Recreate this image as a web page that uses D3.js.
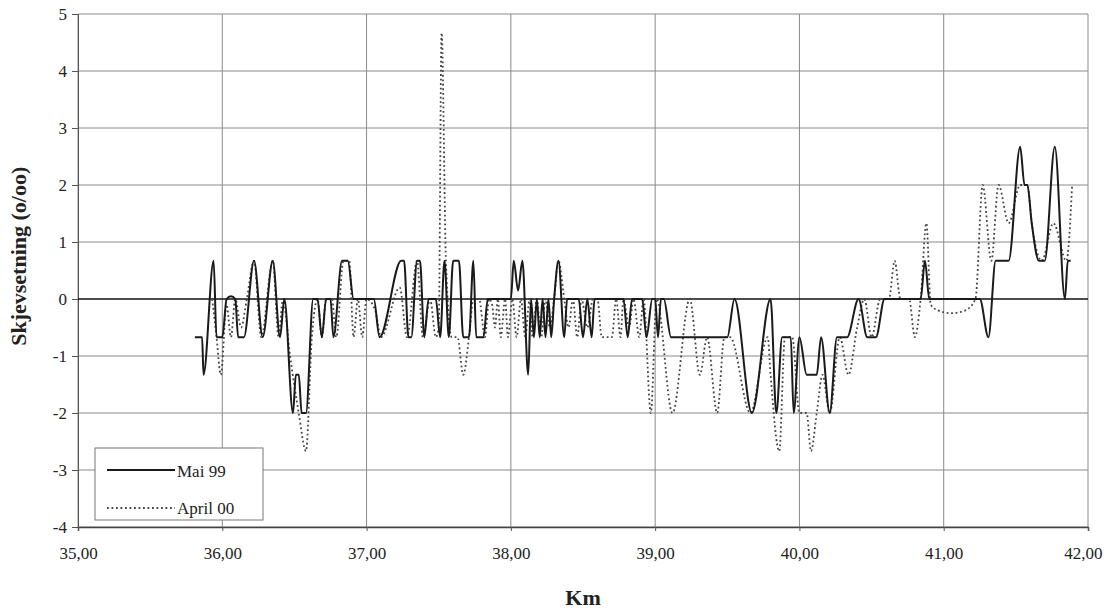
<!DOCTYPE html>
<html>
<head>
<meta charset="utf-8">
<script src="https://cdn.jsdelivr.net/npm/d3@7"></script>
<style>
  body { margin: 0; background: #fff; }
  text { font-family: "Liberation Serif", "Times New Roman", serif; fill: #222; }
</style>
</head>
<body>
<div id="chart"></div>
<script>
// values (km, skjevsetning o/oo)
const maiKm = [35.81, 35.86, 35.87, 35.94, 35.96, 36.00, 36.03, 36.06, 36.09, 36.11, 36.15, 36.22, 36.28, 36.35, 36.40, 36.43,
  36.49, 36.51, 36.53, 36.55, 36.58, 36.63, 36.66, 36.69, 36.72, 36.75, 36.77, 36.83, 36.87, 36.91, 37.05, 37.09, 37.24, 37.26,
  37.29, 37.31, 37.35, 37.37, 37.40, 37.43, 37.48, 37.51, 37.54, 37.57, 37.60, 37.64, 37.67, 37.71, 37.74, 37.76, 37.81, 37.84,
  38.00, 38.02, 38.05, 38.08, 38.12, 38.14, 38.16, 38.18, 38.20, 38.22, 38.24, 38.26, 38.28, 38.30, 38.33, 38.37, 38.39, 38.47,
  38.50, 38.53, 38.56, 38.58, 38.78, 38.81, 38.84, 38.91, 38.94, 38.98, 39.00, 39.02, 39.04, 39.06, 39.11, 39.50, 39.55, 39.67,
  39.80, 39.84, 39.88, 39.94, 39.96, 40.00, 40.05, 40.12, 40.15, 40.21, 40.26, 40.33, 40.41, 40.47, 40.53, 40.59, 40.84, 40.87,
  40.90, 41.25, 41.31, 41.36, 41.45, 41.53, 41.56, 41.58, 41.61, 41.66, 41.70, 41.77, 41.84, 41.86, 41.88];
const maiVal = [-0.67, -0.67, -1.33, 0.67, -0.67, -0.67, 0, 0.05, 0, -0.67, -0.67, 0.67, -0.67, 0.67, -0.67, 0,
  -2, -1.33, -1.33, -2, -2, 0, 0, -0.67, 0, 0, -0.67, 0.67, 0.67, 0, 0, -0.67, 0.67, 0.67,
  -0.67, -0.67, 0.67, 0.67, -0.67, 0, 0, -0.67, 0.67, -0.67, 0.67, 0.67, -0.67, -0.67, 0.67, -0.67, -0.67, 0,
  0, 0.67, 0.15, 0.67, -1.33, 0, -0.67, 0, -0.67, 0, -0.67, 0, -0.67, 0, 0.67, -0.67, 0, 0,
  -0.67, 0, -0.67, 0, 0, -0.67, 0, 0, -0.67, 0, 0, -0.67, 0, 0, -0.67, -0.67, 0, -2,
  0, -2, -0.67, -0.67, -2, -0.67, -1.33, -1.33, -0.67, -2, -0.67, -0.67, 0, -0.67, -0.67, 0, 0, 0.67,
  0, 0, -0.67, 0.67, 0.67, 2.67, 2, 2, 1.33, 0.67, 0.67, 2.67, 0, 0.67, 0.67];

const aprilKm = [35.93, 35.96, 35.99, 36.03, 36.06, 36.09, 36.13, 36.17, 36.22, 36.27, 36.35, 36.39, 36.42, 36.47, 36.53, 36.58,
  36.62, 36.66, 36.69, 36.72, 36.76, 36.79, 36.84, 36.88, 36.91, 36.94, 36.97, 37.00, 37.06, 37.10, 37.23, 37.28, 37.35, 37.39,
  37.44, 37.48, 37.50, 37.52, 37.55, 37.59, 37.63, 37.67, 37.71, 37.74, 37.78, 37.82, 37.85, 37.87, 37.89, 37.91, 37.93, 37.96,
  37.98, 38.01, 38.04, 38.07, 38.10, 38.13, 38.15, 38.18, 38.21, 38.24, 38.27, 38.30, 38.33, 38.37, 38.40, 38.43, 38.46, 38.49,
  38.53, 38.57, 38.60, 38.63, 38.70, 38.73, 38.76, 38.78, 38.82, 38.85, 38.89, 38.92, 38.97, 39.01, 39.12, 39.24, 39.31, 39.36,
  39.43, 39.48, 39.52, 39.66, 39.78, 39.80, 39.86, 39.90, 39.95, 40.00, 40.05, 40.08, 40.12, 40.16, 40.21, 40.28, 40.34, 40.40,
  40.45, 40.50, 40.56, 40.62, 40.66, 40.70, 40.76, 40.80, 40.84, 40.88, 40.91, 40.96, 41.05, 41.15, 41.22, 41.27, 41.33, 41.38,
  41.45, 41.53, 41.58, 41.61, 41.68, 41.76, 41.85, 41.89];
const aprilVal = [0, -0.67, -1.33, -0.1, -0.67, 0, -0.5, 0, 0.67, -0.67, 0.67, -0.67, 0, -1, -2, -2.67,
  -0.7, 0, -0.67, 0, 0, -0.67, 0.67, 0.67, -0.67, 0, -0.67, 0, -0.2, -0.67, 0.2, -0.67, 0.67, -0.67,
  0, -0.67, -0.5, 4.67, 0.67, -0.67, -0.67, -1.33, -0.67, 0, 0, -0.67, 0, -0.1, -0.5, 0, -0.67, 0,
  -0.67, 0, -0.67, 0, -0.67, 0, -0.67, 0, -0.67, 0, -0.5, 0, 0.67, 0, -0.5, 0, -0.67, 0,
  -0.5, 0, 0, -0.67, -0.67, 0, -0.67, 0, -0.5, 0, -0.67, 0, -2, 0, -2, 0, -1.33, -0.67,
  -2, -0.67, -0.67, -2, -0.67, -1.33, -2.67, -0.67, -0.67, -2, -2, -2.67, -2, -1.33, -2, -0.67, -1.33, -0.5,
  0, -0.67, 0, 0, 0.67, 0, 0, -0.67, 0, 1.33, -0.1, -0.2, -0.25, -0.2, 0, 2, 0.67, 2,
  1.33, 2, 2, 1.33, 0.67, 1.33, 0.67, 2];

const seriesNames = ["Mai 99", "April 00"];
const xTicks = [35, 36, 37, 38, 39, 40, 41, 42];
const yTicks = [-4, -3, -2, -1, 0, 1, 2, 3, 4, 5];

const svg = d3.select("#chart")
    .append("svg")
    .attr("width", 1104)
    .attr("height", 613);

svg.append("rect").attr("width", 1104).attr("height", 613).attr("fill", "#fff");

const margin = { top: 14, right: 16, bottom: 86, left: 78 };
const width = 1104 - margin.left - margin.right;
const height = 613 - margin.top - margin.bottom;

const x = d3.scaleLinear().domain([35, 42]).range([margin.left, margin.left + width]);
const y = d3.scaleLinear().domain([-4, 5]).range([margin.top + height, margin.top]);

// grid
svg.append("g")
    .selectAll("line.hgrid")
    .data(yTicks.filter(d => d !== 0))
    .join("line")
    .attr("x1", x(35)).attr("x2", x(42))
    .attr("y1", d => y(d)).attr("y2", d => y(d))
    .attr("stroke", "#8a8a8a")
    .attr("stroke-width", 1);

svg.append("g")
    .selectAll("line.vgrid")
    .data(xTicks)
    .join("line")
    .attr("x1", d => x(d)).attr("x2", d => x(d))
    .attr("y1", y(5)).attr("y2", y(-4))
    .attr("stroke", "#8a8a8a")
    .attr("stroke-width", 1);

// axes
const yAxis = svg.append("g")
    .attr("transform", `translate(${x(35)},0)`)
    .call(d3.axisLeft(y).tickValues(yTicks).tickSize(6).tickFormat(d => String(d)));
yAxis.select(".domain").attr("stroke", "#555");
yAxis.selectAll(".tick line").attr("stroke", "#555");
yAxis.selectAll("text")
    .attr("x", -11)
    .style("font-size", "17px")
    .style("font-family", "Liberation Serif, serif")
    .attr("fill", "#222");

const xAxis = svg.append("g")
    .attr("transform", `translate(0,${y(-4)})`)
    .call(d3.axisBottom(x).tickValues(xTicks).tickSize(4)
        .tickFormat(d => d3.format(".2f")(d).replace(".", ",")));
xAxis.select(".domain").attr("stroke", "#444").attr("stroke-width", 1.5);
xAxis.selectAll(".tick line").attr("stroke", "#555");
xAxis.selectAll("text")
    .attr("y", 20)
    .style("font-size", "17px")
    .style("font-family", "Liberation Serif, serif")
    .attr("fill", "#222");
// last label would run off the right edge
xAxis.selectAll(".tick text")
    .filter(d => d === 42)
    .attr("text-anchor", "end")
    .attr("x", 14);

// zero line
svg.append("line")
    .attr("x1", x(35)).attr("x2", x(42))
    .attr("y1", y(0)).attr("y2", y(0))
    .attr("stroke", "#111")
    .attr("stroke-width", 1.6);

const line = d3.line()
    .x(d => x(d[0]))
    .y(d => y(d[1]))
    .curve(d3.curveMonotoneX);

const aprilData = d3.zip(aprilKm, aprilVal);
const maiData = d3.zip(maiKm, maiVal);

svg.append("path")
    .datum(aprilData)
    .attr("d", line)
    .attr("fill", "none")
    .attr("stroke", "#444")
    .attr("stroke-width", 1.8)
    .attr("stroke-dasharray", "1.8,2.7");

svg.append("path")
    .datum(maiData)
    .attr("d", line)
    .attr("fill", "none")
    .attr("stroke", "#1a1a1a")
    .attr("stroke-width", 2);

// axis titles
svg.append("text")
    .attr("x", x(38.5))
    .attr("y", 605)
    .attr("text-anchor", "middle")
    .style("font-size", "22px")
    .style("font-weight", "bold")
    .text("Km");

svg.append("text")
    .attr("transform", `translate(26,${y(0.75)}) rotate(-90)`)
    .attr("text-anchor", "middle")
    .style("font-size", "22px")
    .style("font-weight", "bold")
    .text("Skjevsetning (o/oo)");

// legend
const legend = svg.append("g").attr("transform", "translate(95,448)");
legend.append("rect")
    .attr("width", 168).attr("height", 72)
    .attr("fill", "#fff")
    .attr("stroke", "#777");
legend.append("line")
    .attr("x1", 12).attr("x2", 80).attr("y1", 22).attr("y2", 22)
    .attr("stroke", "#1a1a1a").attr("stroke-width", 2);
legend.append("text")
    .attr("x", 82).attr("y", 29)
    .style("font-size", "17px")
    .text(seriesNames[0]);
legend.append("line")
    .attr("x1", 12).attr("x2", 80).attr("y1", 60).attr("y2", 60)
    .attr("stroke", "#444").attr("stroke-width", 1.8)
    .attr("stroke-dasharray", "1.8,2.7");
legend.append("text")
    .attr("x", 82).attr("y", 66)
    .style("font-size", "17px")
    .text(seriesNames[1]);
</script>
</body>
</html>
